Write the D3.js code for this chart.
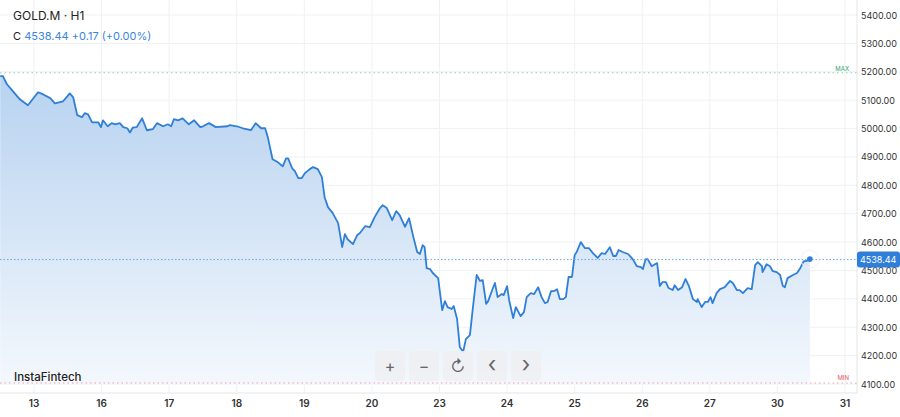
<!DOCTYPE html>
<html><head><meta charset="utf-8">
<script src="https://cdn.jsdelivr.net/npm/d3@7"></script>
<style>body{margin:0;background:#fff;font-family:Inter,"Noto Sans",sans-serif}</style>
</head><body><svg id="c" width="900" height="417"></svg>
<script>
const dayLabels=["13","16","17","18","19","20","23","24","25","26","27","30","31"];
const yTicks=[4100,4200,4300,4400,4500,4600,4700,4800,4900,5000,5100,5200,5300,5400];
const times=[-0.50,-0.46,-0.40,-0.31,-0.21,-0.09,0.06,0.13,0.24,0.31,0.43,0.53,0.58,0.64,0.71,0.75,0.80,0.86,0.95,0.99,1.02,1.09,1.15,1.20,1.27,1.32,1.38,1.42,1.46,1.52,1.60,1.67,1.76,1.82,1.91,1.98,2.03,2.07,2.13,2.20,2.29,2.37,2.46,2.50,2.59,2.69,2.86,2.90,3.00,3.09,3.21,3.28,3.36,3.42,3.46,3.53,3.61,3.68,3.73,3.76,3.82,3.86,3.91,3.96,4.01,4.08,4.13,4.20,4.26,4.30,4.35,4.42,4.50,4.56,4.60,4.64,4.72,4.78,4.82,4.90,4.97,5.04,5.12,5.16,5.22,5.30,5.36,5.41,5.49,5.55,5.61,5.67,5.71,5.75,5.78,5.81,5.86,5.90,5.98,6.04,6.08,6.12,6.18,6.21,6.26,6.30,6.35,6.39,6.45,6.49,6.55,6.60,6.64,6.69,6.72,6.78,6.82,6.86,6.92,6.95,7.00,7.03,7.09,7.13,7.20,7.25,7.29,7.35,7.40,7.46,7.51,7.56,7.60,7.65,7.69,7.74,7.78,7.83,7.87,7.91,7.96,8.00,8.03,8.09,8.15,8.21,8.27,8.34,8.40,8.45,8.52,8.57,8.61,8.65,8.71,8.79,8.86,8.92,8.98,9.01,9.05,9.08,9.14,9.22,9.26,9.30,9.35,9.39,9.45,9.48,9.53,9.59,9.64,9.69,9.75,9.81,9.82,9.88,9.93,9.97,10.01,10.04,10.10,10.15,10.22,10.30,10.34,10.40,10.44,10.49,10.56,10.62,10.67,10.71,10.77,10.78,10.84,10.89,10.93,10.99,11.04,11.08,11.11,11.15,11.23,11.29,11.33,11.39,11.43,11.48];
const prices=[5185,5185,5156,5131,5103,5082,5128,5121,5107,5089,5096,5124,5110,5047,5040,5054,5050,5022,5022,5005,5029,5008,5019,5015,5019,5005,5001,4986,5003,5005,5036,4994,4998,5019,5008,5015,5008,5033,5029,5036,5015,5029,5005,5008,5019,5005,5008,5012,5008,5001,4994,5019,5001,5001,4969,4892,4881,4867,4895,4895,4860,4850,4825,4825,4843,4857,4864,4857,4829,4758,4723,4702,4667,4582,4628,4610,4593,4624,4631,4656,4653,4688,4720,4730,4720,4677,4709,4695,4654,4684,4621,4565,4558,4589,4582,4508,4505,4491,4473,4360,4392,4371,4364,4375,4329,4230,4213,4258,4272,4360,4484,4463,4466,4382,4392,4431,4456,4406,4417,4413,4445,4396,4332,4371,4339,4353,4406,4420,4417,4441,4406,4385,4389,4427,4427,4434,4399,4399,4406,4477,4477,4554,4565,4600,4579,4579,4561,4544,4561,4558,4582,4551,4551,4572,4565,4558,4540,4515,4512,4505,4540,4540,4515,4526,4445,4459,4459,4438,4431,4448,4431,4441,4470,4445,4399,4389,4399,4371,4389,4389,4406,4385,4420,4434,4441,4463,4456,4431,4431,4420,4438,4434,4519,4529,4515,4494,4522,4515,4498,4494,4484,4445,4441,4473,4484,4491,4505,4533,4533,4540,4538.44];
const last=4538.44;

const svg=d3.select("#c");
const W=857, bottom=393;
const x=d3.scaleLinear().domain([0,12]).range([34,845]);
const y=d3.scaleLinear().domain([4100,5400]).range([384,15]);
const n=Math.min(times.length,prices.length);
const data=times.slice(0,n).map((t,i)=>({t,p:prices[i]}));

const defs=svg.append("defs");
const g=defs.append("linearGradient").attr("id","gr").attr("x1",0).attr("x2",0).attr("y1",0).attr("y2",1);
g.append("stop").attr("offset","0%").attr("stop-color","#b7d2f0");
g.append("stop").attr("offset","100%").attr("stop-color","#f4f8fd");

svg.append("g").selectAll("line").data(yTicks).join("line")
 .attr("x1",0).attr("x2",W).attr("y1",d=>y(d)).attr("y2",d=>y(d)).attr("stroke","#f0f1f3");
svg.append("g").selectAll("line").data(dayLabels).join("line")
 .attr("x1",(d,i)=>x(i)).attr("x2",(d,i)=>x(i)).attr("y1",0).attr("y2",bottom).attr("stroke","#f0f1f3");
svg.append("line").attr("x1",W).attr("x2",W).attr("y1",0).attr("y2",bottom).attr("stroke","#e3e5e8");
svg.append("line").attr("x1",0).attr("x2",W).attr("y1",bottom).attr("y2",bottom).attr("stroke","#e3e5e8");

svg.append("path").datum(data).attr("fill","url(#gr)")
 .attr("d",d3.area().x(d=>x(d.t)).y0(bottom-8).y1(d=>y(d.p)));
svg.append("path").datum(data).attr("fill","none").attr("stroke","#2f7fd8").attr("stroke-width",1.8)
 .attr("stroke-linejoin","round").attr("d",d3.line().x(d=>x(d.t)).y(d=>y(d.p)));

const maxV=5200, minV=4100;
svg.append("line").attr("x1",0).attr("x2",W).attr("y1",y(maxV)+1).attr("y2",y(maxV)+1).attr("stroke","#8fd4b4").attr("stroke-dasharray","1.5,3");
svg.append("text").attr("x",849).attr("y",y(maxV)-1).attr("text-anchor","end").attr("font-size",6).attr("fill","#2ca66a").text("MAX");
svg.append("line").attr("x1",0).attr("x2",W).attr("y1",y(minV)-1).attr("y2",y(minV)-1).attr("stroke","#f0a0a8").attr("stroke-dasharray","1.5,3");
svg.append("text").attr("x",849).attr("y",y(minV)-4).attr("text-anchor","end").attr("font-size",6).attr("fill","#e05560").text("MIN");
svg.append("line").attr("x1",0).attr("x2",W).attr("y1",y(last)).attr("y2",y(last)).attr("stroke","#6aa6e8").attr("stroke-dasharray","1.5,2");
const ld=data[data.length-1];
svg.append("circle").attr("cx",x(ld.t)).attr("cy",y(ld.p)).attr("r",9).attr("fill","none").attr("stroke","#eef3fa");
svg.append("circle").attr("cx",x(ld.t)).attr("cy",y(ld.p)).attr("r",2.8).attr("fill","#2f7fd8");

svg.append("g").selectAll("text").data(yTicks).join("text")
 .attr("x",861).attr("y",d=>y(d)+3.5).attr("font-size",9).attr("fill","#333").text(d=>d.toFixed(2));
svg.append("rect").attr("x",857).attr("y",y(last)-8).attr("width",43).attr("height",16).attr("rx",3).attr("fill","#2f7fd8");
svg.append("text").attr("x",860).attr("y",y(last)+3.5).attr("font-size",9).attr("fill","#fff").text(last.toFixed(2));

svg.append("g").selectAll("text").data(dayLabels).join("text")
 .attr("x",(d,i)=>x(i)).attr("y",407).attr("text-anchor","middle").attr("font-size",10).attr("font-weight",600).attr("fill","#333").text(d=>d);

svg.append("text").attr("x",13).attr("y",20).attr("font-size",12).attr("fill","#222").text("GOLD.M · H1");
const h=svg.append("text").attr("x",13).attr("y",40).attr("font-size",11);
h.append("tspan").attr("fill","#222").text("C  ");
h.append("tspan").attr("fill","#3a86dc").text("4538.44  +0.17 (+0.00%)");
svg.append("text").attr("x",14).attr("y",381).attr("font-size",11.5).attr("font-weight",500).attr("fill","#222").text("InstaFintech");

const btn=["+","−","↻","‹","›"];
const bg=svg.append("g").selectAll("g").data(btn).join("g").attr("transform",(d,i)=>`translate(${375+i*34},351)`);
bg.append("rect").attr("width",30).attr("height",30).attr("rx",4).attr("fill","#eef0f3").attr("opacity",0.9);
bg.append("text").attr("x",15).attr("y",21).attr("text-anchor","middle").attr("font-size",(d,i)=>i>2?22:16).attr("fill","#666").text(d=>d);
</script></body></html>
